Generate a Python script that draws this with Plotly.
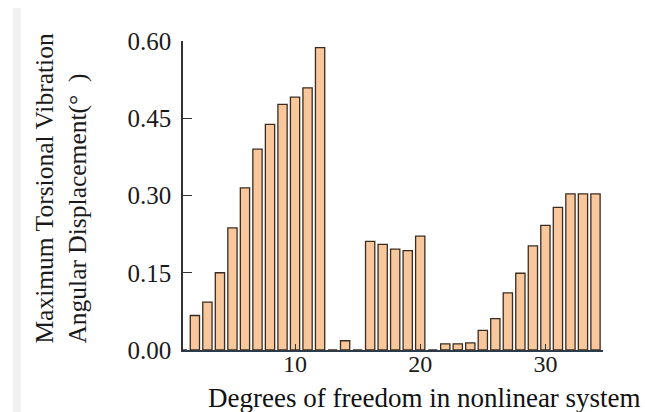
import plotly.graph_objects as go

# Degree-of-freedom index and the peak torsional angular displacement (deg)
dof = list(range(1, 35))
max_disp = [
    0.000, 0.067, 0.093, 0.150, 0.237, 0.315, 0.390, 0.438, 0.477, 0.491,
    0.509, 0.587, 0.000, 0.018, 0.000, 0.211, 0.205, 0.196, 0.193, 0.221,
    0.000, 0.012, 0.012, 0.014, 0.038, 0.061, 0.111, 0.149, 0.202, 0.242,
    0.277, 0.303, 0.303, 0.303,
]

y_ticks = [0.00, 0.15, 0.30, 0.45, 0.60]
y_tick_text = ["0.00", "0.15", "0.30", "0.45", "0.60"]
x_ticks = [10, 20, 30]

FONT = "Liberation Serif, Times New Roman, serif"
BAR_FILL = "#F8C79B"
BAR_EDGE = "#3a2c22"

fig = go.Figure(
    go.Bar(
        x=dof,
        y=max_disp,
        width=0.74,
        marker=dict(color=BAR_FILL, line=dict(color=BAR_EDGE, width=1.3)),
        hoverinfo="x+y",
    )
)

fig.update_layout(
    width=645,
    height=412,
    margin=dict(l=183, r=42, t=41, b=62),
    paper_bgcolor="white",
    plot_bgcolor="white",
    showlegend=False,
    font=dict(family=FONT, color="#222222"),
    shapes=[
        # thin grey band along the left edge of the page
        dict(
            type="rect", xref="paper", yref="paper",
            x0=-0.405, x1=-0.386, y0=-0.21, y1=1.107,
            fillcolor="#f1f1f4", line=dict(width=0), layer="below",
        )
    ],
    annotations=[
        dict(
            text="Maximum Torsional Vibration<br>Angular Displacement(°\u00a0\u00a0)",
            textangle=-90,
            align="left",
            xref="paper", yref="paper",
            x=-0.29, y=0.015,
            xanchor="center", yanchor="bottom",
            showarrow=False,
            font=dict(family=FONT, size=25.5, color="#1a1a1a"),
        ),
        dict(
            text="Degrees of freedom in nonlinear system",
            xref="paper", yref="paper",
            x=0.574, y=-0.155,
            xanchor="center", yanchor="middle",
            showarrow=False,
            font=dict(family=FONT, size=27, color="#111111"),
        ),
    ],
)

fig.update_xaxes(
    range=[1.05, 34.6],
    tickvals=x_ticks,
    ticks="inside",
    ticklen=6,
    tickwidth=1.3,
    tickcolor="#333333",
    showline=True,
    linecolor="#2d3a48",
    linewidth=1.5,
    showgrid=False,
    zeroline=False,
    automargin=False,
    tickfont=dict(family=FONT, size=24, color="#1a1a1a"),
    ticklabelstandoff=-9,
)

fig.update_yaxes(
    range=[0, 0.6],
    tickvals=y_ticks,
    ticktext=y_tick_text,
    ticks="inside",
    ticklen=9,
    tickwidth=1.3,
    tickcolor="#333333",
    showline=True,
    linecolor="#333333",
    linewidth=1.5,
    showgrid=False,
    zeroline=False,
    automargin=False,
    tickfont=dict(family=FONT, size=25, color="#1a1a1a"),
    ticklabelstandoff=5,
)

fig.write_html("out.html")
